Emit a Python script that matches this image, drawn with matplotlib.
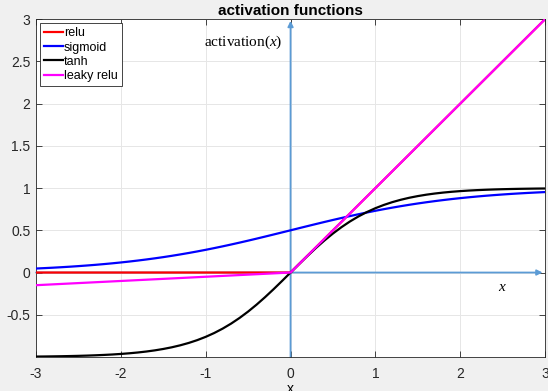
import matplotlib.pyplot as plt

# straight-line functions: break points only
x_lin = [-3.0, 0.0, 3.0]
relu_vals = [0.0, 0.0, 3.0]
leaky_vals = [-0.15, 0.0, 3.0]

# smooth functions, values
x_vals = [-3.0, -2.9, -2.8, -2.7, -2.6, -2.5, -2.4, -2.3, -2.2, -2.1,
          -2.0, -1.9, -1.8, -1.7, -1.6, -1.5, -1.4, -1.3, -1.2, -1.1,
          -1.0, -0.9, -0.8, -0.7, -0.6, -0.5, -0.4, -0.3, -0.2, -0.1,
          0.0, 0.1, 0.2, 0.3, 0.4, 0.5, 0.6, 0.7, 0.8, 0.9,
          1.0, 1.1, 1.2, 1.3, 1.4, 1.5, 1.6, 1.7, 1.8, 1.9,
          2.0, 2.1, 2.2, 2.3, 2.4, 2.5, 2.6, 2.7, 2.8, 2.9, 3.0]
sigmoid_vals = [0.0474, 0.0522, 0.0573, 0.0630, 0.0691, 0.0759, 0.0832, 0.0911, 0.0998, 0.1091,
                0.1192, 0.1301, 0.1419, 0.1545, 0.1680, 0.1824, 0.1978, 0.2142, 0.2315, 0.2497,
                0.2689, 0.2891, 0.3100, 0.3318, 0.3543, 0.3775, 0.4013, 0.4256, 0.4502, 0.4750,
                0.5000, 0.5250, 0.5498, 0.5744, 0.5987, 0.6225, 0.6457, 0.6682, 0.6900, 0.7109,
                0.7311, 0.7503, 0.7685, 0.7858, 0.8022, 0.8176, 0.8320, 0.8455, 0.8581, 0.8699,
                0.8808, 0.8909, 0.9002, 0.9089, 0.9168, 0.9241, 0.9309, 0.9370, 0.9427, 0.9478, 0.9526]
tanh_vals = [-0.9951, -0.9940, -0.9926, -0.9910, -0.9890, -0.9866, -0.9837, -0.9801, -0.9757, -0.9705,
             -0.9640, -0.9562, -0.9468, -0.9354, -0.9217, -0.9051, -0.8854, -0.8617, -0.8337, -0.8005,
             -0.7616, -0.7163, -0.6640, -0.6044, -0.5370, -0.4621, -0.3799, -0.2913, -0.1974, -0.0997,
             0.0, 0.0997, 0.1974, 0.2913, 0.3799, 0.4621, 0.5370, 0.6044, 0.6640, 0.7163,
             0.7616, 0.8005, 0.8337, 0.8617, 0.8854, 0.9051, 0.9217, 0.9354, 0.9468, 0.9562,
             0.9640, 0.9705, 0.9757, 0.9801, 0.9837, 0.9866, 0.9890, 0.9910, 0.9926, 0.9940, 0.9951]

x_ticks = [-3, -2, -1, 0, 1, 2, 3]
y_ticks = [-0.5, 0, 0.5, 1, 1.5, 2, 2.5, 3]
y_tick_labels = ['-0.5', '0', '0.5', '1', '1.5', '2', '2.5', '3']

plt.rcParams['font.family'] = ['Liberation Sans', 'DejaVu Sans']
plt.rcParams['mathtext.fontset'] = 'custom'
plt.rcParams['mathtext.it'] = 'Liberation Serif:italic'
plt.rcParams['mathtext.rm'] = 'Liberation Serif'

fig = plt.figure(figsize=(5.48, 3.91), dpi=100, facecolor='#f0f0f0')
ax = fig.add_axes([0.0657, 0.087, 0.929, 0.864])

# axis arrows (under the curves)
arrow_col = '#5b9bd5'
ax.annotate('', xy=(2.97, 0), xytext=(-3, 0), zorder=1,
            arrowprops=dict(arrowstyle='-|>', color=arrow_col, lw=1.3, mutation_scale=8,
                            shrinkA=0, shrinkB=0))
ax.annotate('', xy=(0, 2.98), xytext=(0, -1), zorder=1,
            arrowprops=dict(arrowstyle='-|>', color=arrow_col, lw=1.3, mutation_scale=8,
                            shrinkA=0, shrinkB=0))

ax.plot(x_lin, relu_vals, color='red', lw=1.6, label='relu', zorder=3)
ax.plot(x_vals, sigmoid_vals, color='blue', lw=1.6, label='sigmoid', zorder=3)
ax.plot(x_vals, tanh_vals, color='black', lw=1.6, label='tanh', zorder=3)
ax.plot(x_lin, leaky_vals, color='magenta', lw=1.6, label='leaky relu', zorder=3)

ax.text(-1.02, 2.73, r'activation$(x)$', family='Liberation Serif', fontsize=11, va='center')
ax.text(2.5, -0.17, r'$x$', fontsize=11, va='center', ha='center')

ax.set_xlim(-3, 3)
ax.set_ylim(-1, 3)
ax.set_xticks(x_ticks)
ax.set_yticks(y_ticks)
ax.set_xticklabels([str(t) for t in x_ticks])
ax.set_yticklabels(y_tick_labels)
ax.tick_params(direction='in', top=True, right=True, labelsize=10, colors='#262626',
               length=4, width=0.6)
ax.tick_params(axis='x', pad=7)
ax.tick_params(axis='y', pad=4)
ax.grid(True, color='#e6e6e6', lw=0.7)
ax.set_axisbelow(True)
for s in ax.spines.values():
    s.set_color('#262626')
    s.set_linewidth(0.6)

ax.set_title('activation functions', fontsize=11, fontweight='bold', pad=3)
ax.set_xlabel('x', fontsize=10, labelpad=1)
ax.set_ylabel('y', fontsize=10, labelpad=9)

leg = ax.legend(loc='upper left', fontsize=9, handlelength=1.5, handletextpad=0.1,
                borderpad=0.35, labelspacing=0.18, borderaxespad=0.3, fancybox=False,
                framealpha=1, edgecolor='#262626')
leg.get_frame().set_linewidth(0.6)

fig.savefig('out.png', dpi=100, facecolor=fig.get_facecolor())
